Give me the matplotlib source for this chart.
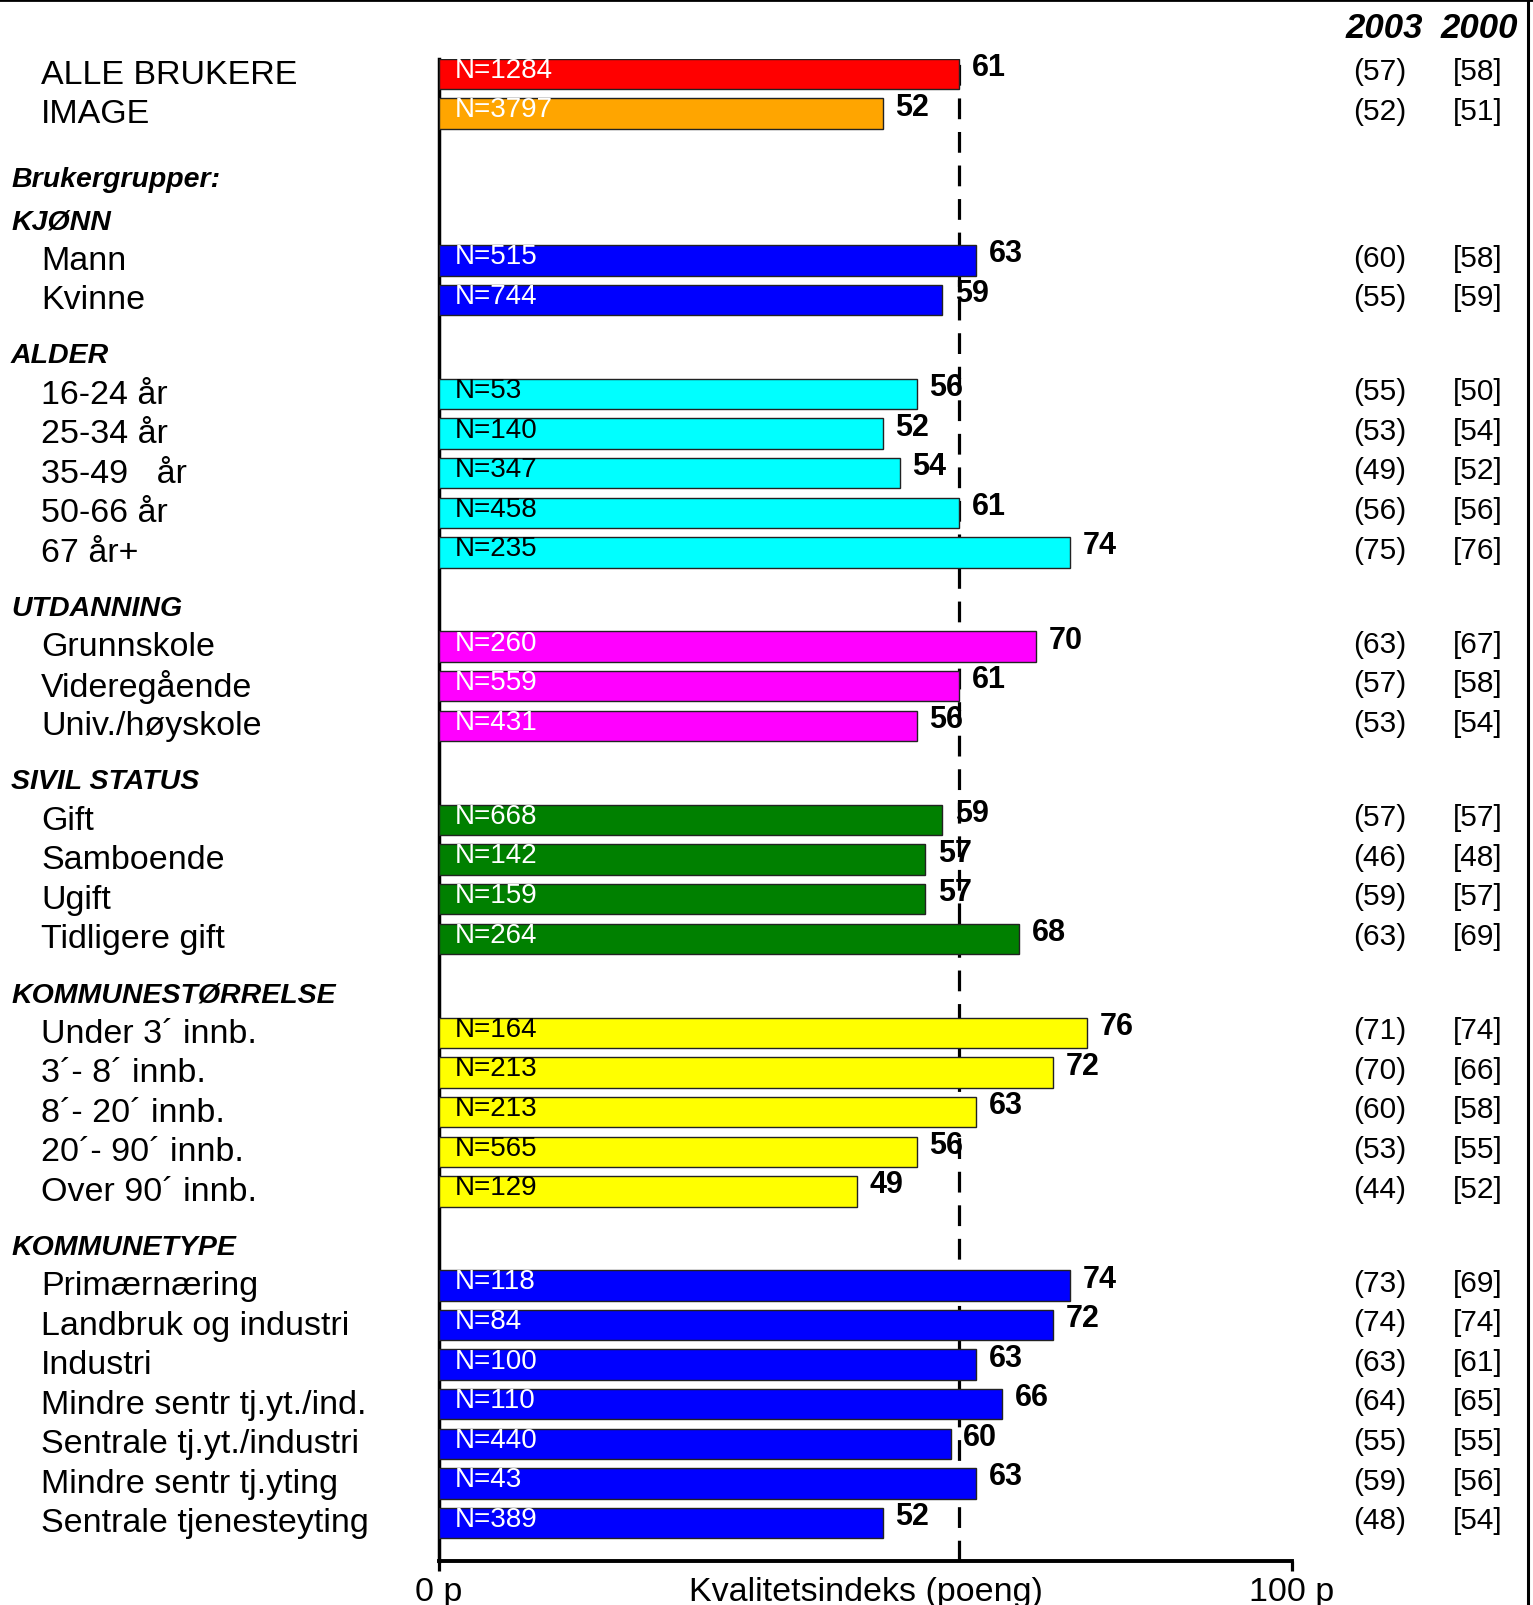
import numpy as np
import matplotlib.pyplot as plt
from matplotlib import transforms
from matplotlib.lines import Line2D

plt.rcParams['font.family'] = ['Liberation Sans', 'DejaVu Sans']

# data, group by group
top_labels = ['ALLE BRUKERE', 'IMAGE']
top_values = [61, 52]
top_n = [1284, 3797]
top_2003 = [57, 52]
top_2000 = [58, 51]
top_colors = ['#ff0000', '#ffa500']

group_titles = ['KJØNN', 'ALDER', 'UTDANNING', 'SIVIL STATUS', 'KOMMUNESTØRRELSE', 'KOMMUNETYPE']
group_colors = ['#0000ff', '#00ffff', '#ff00ff', '#008000', '#ffff00', '#0000ff']
group_textcolors = ['white', 'black', 'white', 'white', 'black', 'white']

group_labels = [
    ['Mann', 'Kvinne'],
    ['16-24 år', '25-34 år', '35-49   år', '50-66 år', '67 år+'],
    ['Grunnskole', 'Videregående', 'Univ./høyskole'],
    ['Gift', 'Samboende', 'Ugift', 'Tidligere gift'],
    ['Under 3´ innb.', '3´- 8´ innb.', '8´- 20´ innb.', '20´- 90´ innb.', 'Over 90´ innb.'],
    ['Primærnæring', 'Landbruk og industri', 'Industri', 'Mindre sentr tj.yt./ind.',
     'Sentrale tj.yt./industri', 'Mindre sentr tj.yting', 'Sentrale tjenesteyting'],
]
group_values = [
    [63, 59],
    [56, 52, 54, 61, 74],
    [70, 61, 56],
    [59, 57, 57, 68],
    [76, 72, 63, 56, 49],
    [74, 72, 63, 66, 60, 63, 52],
]
group_n = [
    [515, 744],
    [53, 140, 347, 458, 235],
    [260, 559, 431],
    [668, 142, 159, 264],
    [164, 213, 213, 565, 129],
    [118, 84, 100, 110, 440, 43, 389],
]
group_2003 = [
    [60, 55],
    [55, 53, 49, 56, 75],
    [63, 57, 53],
    [57, 46, 59, 63],
    [71, 70, 60, 53, 44],
    [73, 74, 63, 64, 55, 59, 48],
]
group_2000 = [
    [58, 59],
    [50, 54, 52, 56, 76],
    [67, 58, 54],
    [57, 48, 57, 69],
    [74, 66, 58, 55, 52],
    [69, 74, 61, 65, 55, 56, 54],
]
reference_value = 61

# row layout
first_gap = 3.71
group_gap = 2.385

labels, values, ns, v2003, v2000, colors, tcolors, ypos = [], [], [], [], [], [], [], []
header_pos = []
y = 0.0
for i in range(len(top_labels)):
    labels.append(top_labels[i]); values.append(top_values[i]); ns.append(top_n[i])
    v2003.append(top_2003[i]); v2000.append(top_2000[i])
    colors.append(top_colors[i]); tcolors.append('white'); ypos.append(y)
    y += 1
y = y - 1 + first_gap
for g in range(len(group_titles)):
    if g > 0:
        y = y - 1 + group_gap
    header_pos.append(y - 0.98)
    for i in range(len(group_labels[g])):
        labels.append(group_labels[g][i]); values.append(group_values[g][i]); ns.append(group_n[g][i])
        v2003.append(group_2003[g][i]); v2000.append(group_2000[g][i])
        colors.append(group_colors[g]); tcolors.append(group_textcolors[g]); ypos.append(y)
        y += 1

W, H = 1533, 1606
fig = plt.figure(figsize=(W / 100, H / 100), dpi=100)
ax_left, ax_right = 439, 1292
ax_top, ax_bottom = 60, 1562
ax = fig.add_axes([ax_left / W, 1 - ax_bottom / H, (ax_right - ax_left) / W, (ax_bottom - ax_top) / H])
pitch = 39.55
ax.set_xlim(0, 100)
ax.set_ylim((ax_bottom - 75) / pitch, (ax_top - 75) / pitch)

ax.barh(ypos, values, height=0.77, color=colors, edgecolor='#222222', linewidth=1.0, zorder=3)
ax.axvline(reference_value, color='black', linewidth=2.3, dashes=(6.5, 4), zorder=2)

for yy, v, n, tc in zip(ypos, values, ns, tcolors):
    ax.annotate(f'N={n}', (0, yy), xytext=(11, 3), textcoords='offset points',
                ha='left', va='center', fontsize=20, color=tc, zorder=4)
    ax.annotate(str(v), (v, yy), xytext=(9, 5), textcoords='offset points',
                ha='left', va='center', fontsize=22, fontweight='bold', color='black', zorder=4)

# labels on the left and old values on the right
lab_tr = transforms.blended_transform_factory(fig.transFigure, ax.transData)
for yy, lab, a, b in zip(ypos, labels, v2003, v2000):
    ax.text(41 / W, yy, lab, transform=lab_tr, ha='left', va='center', fontsize=24.5)
    ax.text(1380 / W, yy - 0.07, f'({a})', transform=lab_tr, ha='center', va='center', fontsize=21.5)
    ax.text(1478 / W, yy - 0.07, f'[{b}]', transform=lab_tr, ha='center', va='center', fontsize=21.5)

ax.text(11 / W, header_pos[0] - 1.08, 'Brukergrupper:', transform=lab_tr, ha='left', va='center',
        fontsize=20.5, fontweight='bold', fontstyle='italic')
for hp, title in zip(header_pos, group_titles):
    ax.text(11 / W, hp, title, transform=lab_tr, ha='left', va='center',
            fontsize=20.5, fontweight='bold', fontstyle='italic')

fig.text(1384 / W, 1 - 28 / H, '2003', ha='center', va='center', fontsize=25,
         fontweight='bold', fontstyle='italic')
fig.text(1479 / W, 1 - 28 / H, '2000', ha='center', va='center', fontsize=25,
         fontweight='bold', fontstyle='italic')

# axes styling
for s in ['top', 'right']:
    ax.spines[s].set_visible(False)
ax.spines['left'].set_linewidth(2.5)
ax.spines['bottom'].set_linewidth(2.8)
ax.set_yticks([])
ax.set_xticks([0, 100])
ax.set_xticklabels(['0 p', '100 p'], fontsize=24.5)
ax.tick_params(axis='x', direction='out', length=7.5, width=2.3, pad=3)
ax.annotate('Kvalitetsindeks (poeng)', (50, 0), xycoords=('data', 'axes fraction'),
            xytext=(0, -10.5), textcoords='offset points', ha='center', va='top', fontsize=24.5)

# frame lines
fig.add_artist(Line2D([0, 1], [1 - 1 / H, 1 - 1 / H], transform=fig.transFigure, color='black', linewidth=2))
fig.add_artist(Line2D([1528 / W, 1528 / W], [0, 1], transform=fig.transFigure, color='black', linewidth=2.2))

fig.savefig('out.png', dpi=100)
